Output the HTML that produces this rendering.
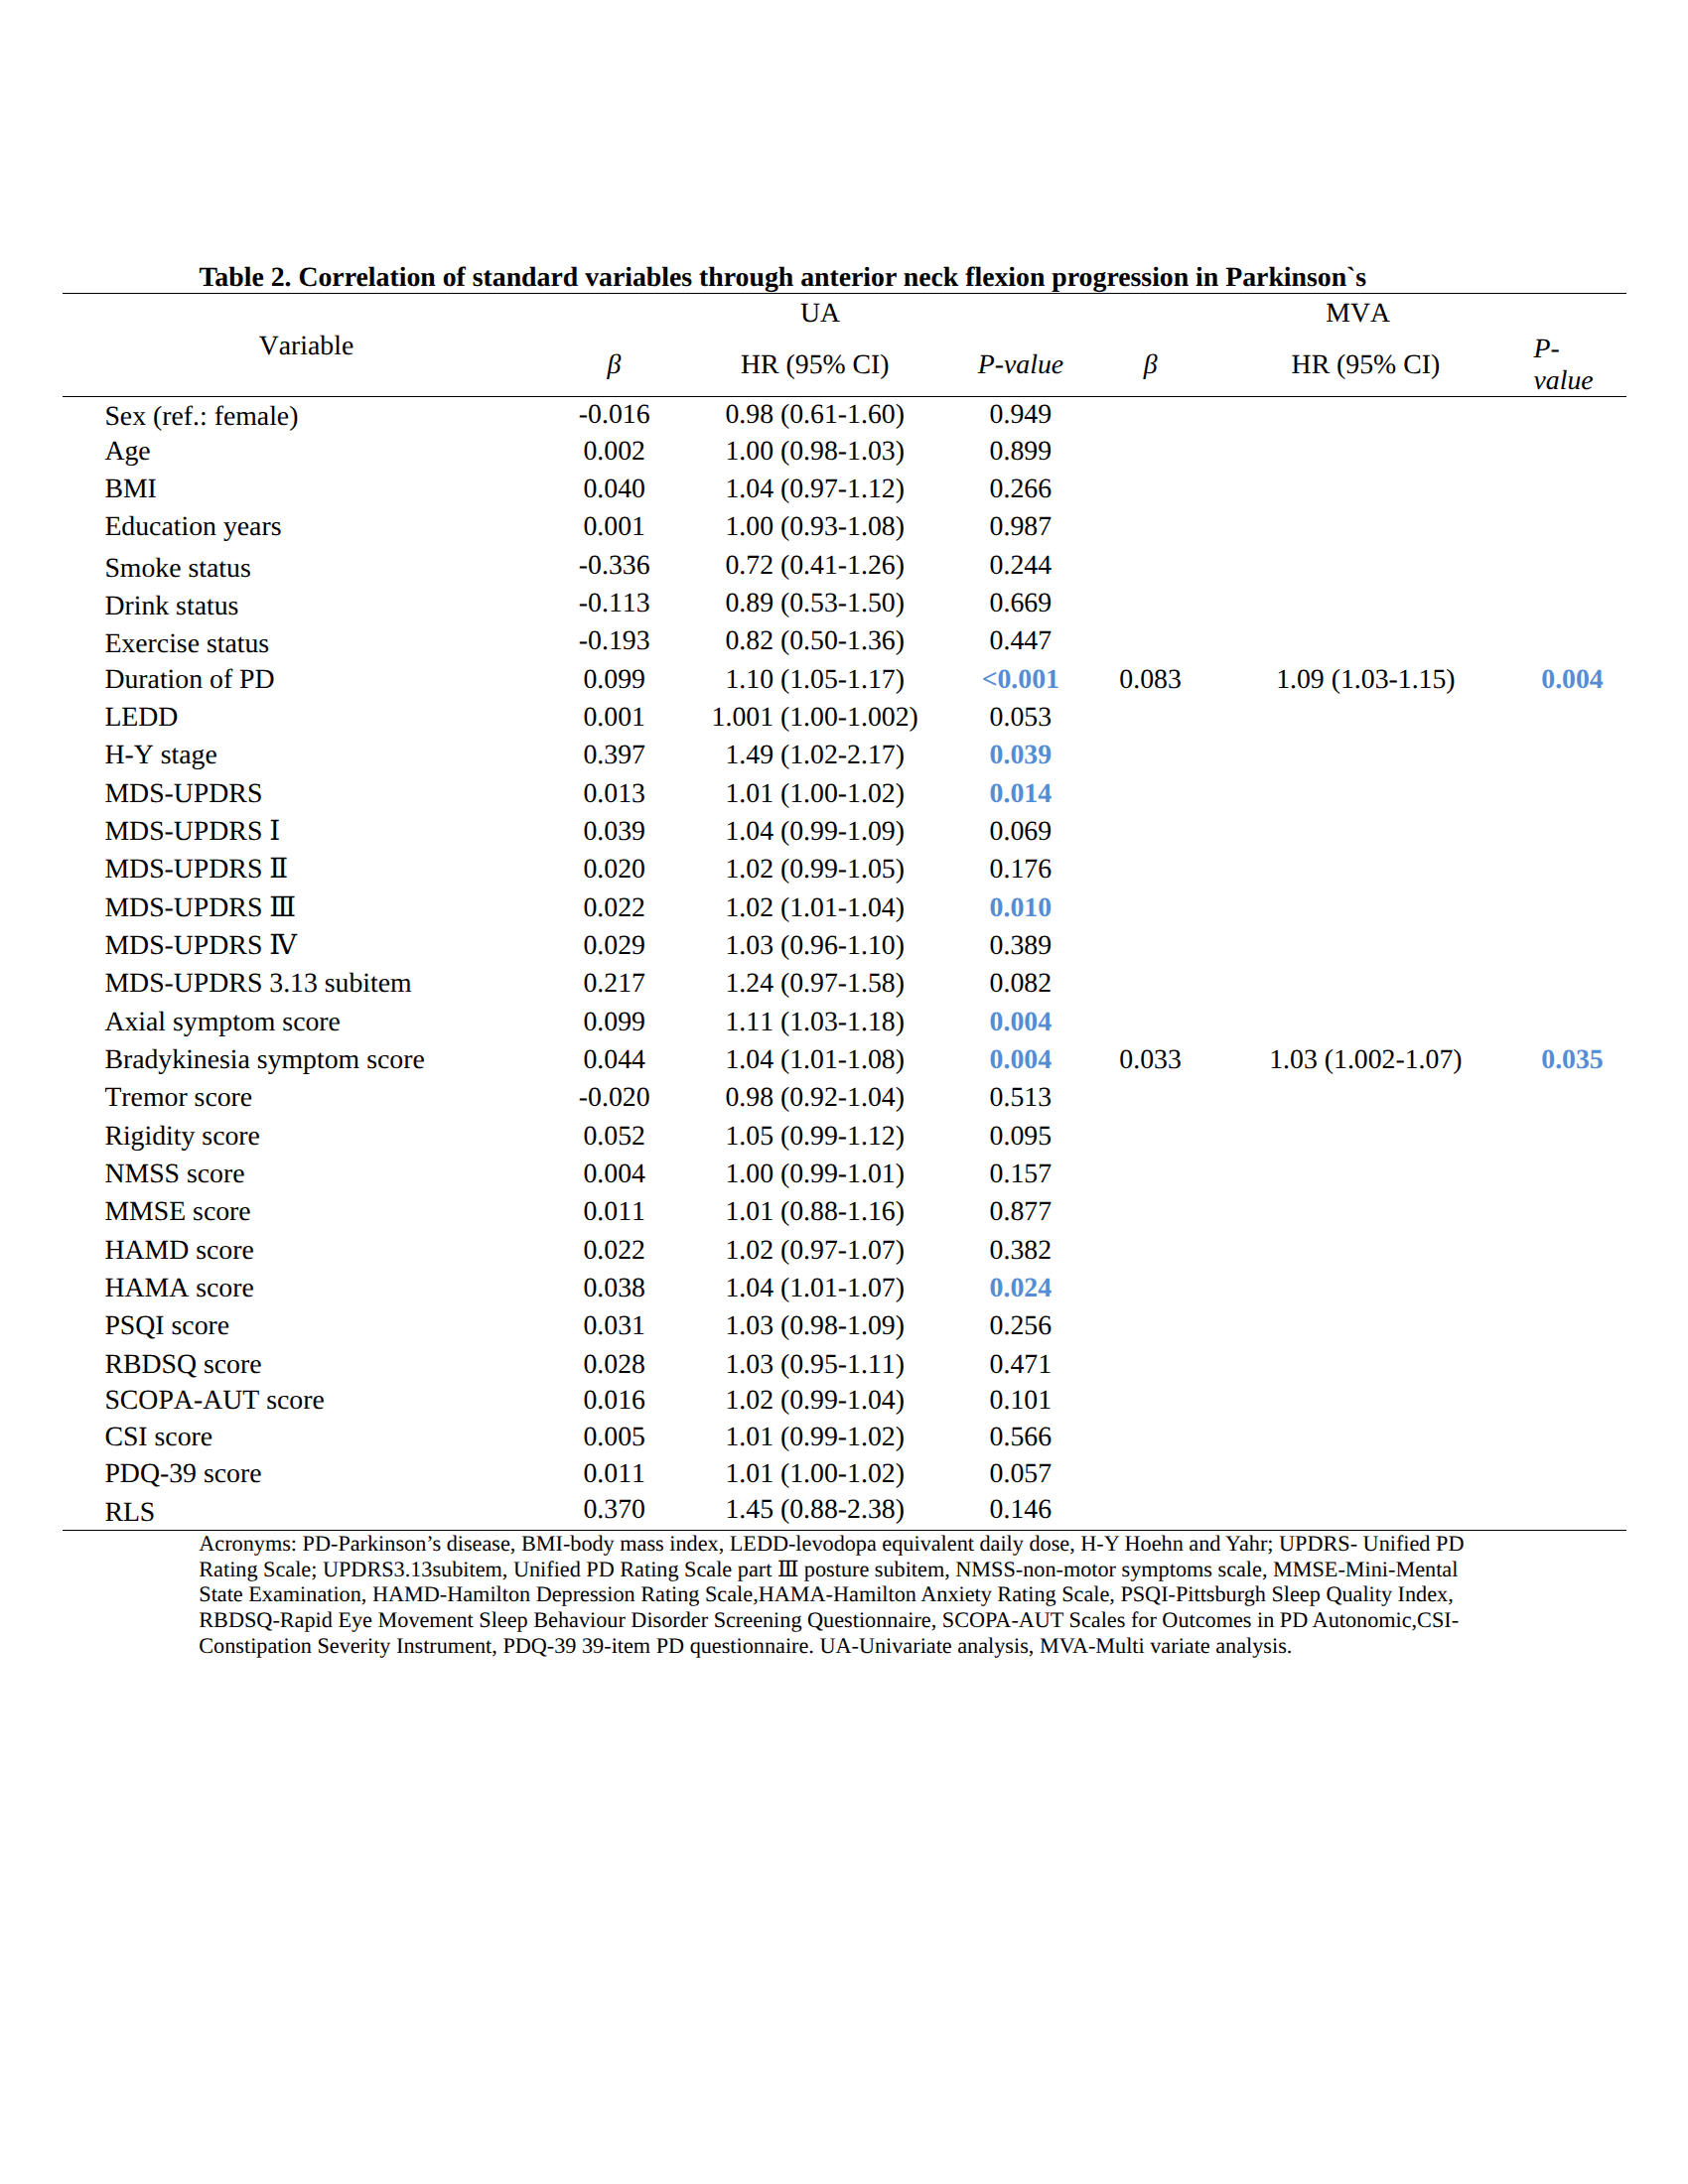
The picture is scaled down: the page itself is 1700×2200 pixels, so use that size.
<!DOCTYPE html>
<html lang="en"><head><meta charset="utf-8"><title>Table 2</title>
<style>
html,body{margin:0;padding:0;background:#fff;}
body{width:1700px;height:2200px;position:relative;overflow:hidden;
 font-family:"Liberation Serif","DejaVu Serif",serif;font-size:27.78px;color:#000;
 font-kerning:none;font-variant-ligatures:none;text-rendering:geometricPrecision;}
.t{position:absolute;white-space:pre;line-height:1;}
.c{transform:translateX(-50%);}
.b{font-weight:bold;color:#548dd4;}
.i{font-style:italic;}
.hl{position:absolute;left:63px;width:1575px;height:1px;background:#000;}
.ttl{font-weight:bold;font-kerning:normal;}
.rn{font-family:"DejaVu Serif","Liberation Serif",serif;line-height:0;}
.fn{position:absolute;left:200.3px;font-size:22.22px;line-height:1;white-space:pre;font-kerning:normal;}
</style></head><body>

<span class="t l ttl" style="left:200.4px;top:266px">Table 2. Correlation of standard variables through anterior neck flexion progression in Parkinson`s</span>
<div class="hl" style="top:295px"></div>
<div class="hl" style="top:399px"></div>
<div class="hl" style="top:1541px"></div>
<span class="t c " style="left:826.0px;top:302px">UA</span>
<span class="t c " style="left:1367.6px;top:302px">MVA</span>
<span class="t c " style="left:308.5px;top:335px">Variable</span>
<span class="t c i" style="left:618.4px;top:354px">β</span>
<span class="t c " style="left:820.8px;top:354px">HR (95% CI)</span>
<span class="t c i" style="left:1028.0px;top:354px">P-value</span>
<span class="t c i" style="left:1158.6px;top:354px">β</span>
<span class="t c " style="left:1375.4px;top:354px">HR (95% CI)</span>
<span class="t l i" style="left:1544.5px;top:338px">P-</span>
<span class="t l i" style="left:1544.5px;top:370px">value</span>
<span class="t l " style="left:105.4px;top:406px">Sex (ref.: female)</span>
<span class="t c " style="left:618.7px;top:404px">-0.016</span>
<span class="t c " style="left:820.7px;top:404px">0.98 (0.61-1.60)</span>
<span class="t c " style="left:1027.8px;top:404px">0.949</span>
<span class="t l " style="left:105.4px;top:441px">Age</span>
<span class="t c " style="left:618.7px;top:441px">0.002</span>
<span class="t c " style="left:820.7px;top:441px">1.00 (0.98-1.03)</span>
<span class="t c " style="left:1027.8px;top:441px">0.899</span>
<span class="t l " style="left:105.4px;top:479px">BMI</span>
<span class="t c " style="left:618.7px;top:479px">0.040</span>
<span class="t c " style="left:820.7px;top:479px">1.04 (0.97-1.12)</span>
<span class="t c " style="left:1027.8px;top:479px">0.266</span>
<span class="t l " style="left:105.4px;top:517px">Education years</span>
<span class="t c " style="left:618.7px;top:517px">0.001</span>
<span class="t c " style="left:820.7px;top:517px">1.00 (0.93-1.08)</span>
<span class="t c " style="left:1027.8px;top:517px">0.987</span>
<span class="t l " style="left:105.4px;top:559px">Smoke status</span>
<span class="t c " style="left:618.7px;top:556px">-0.336</span>
<span class="t c " style="left:820.7px;top:556px">0.72 (0.41-1.26)</span>
<span class="t c " style="left:1027.8px;top:556px">0.244</span>
<span class="t l " style="left:105.4px;top:597px">Drink status</span>
<span class="t c " style="left:618.7px;top:594px">-0.113</span>
<span class="t c " style="left:820.7px;top:594px">0.89 (0.53-1.50)</span>
<span class="t c " style="left:1027.8px;top:594px">0.669</span>
<span class="t l " style="left:105.4px;top:635px">Exercise status</span>
<span class="t c " style="left:618.7px;top:632px">-0.193</span>
<span class="t c " style="left:820.7px;top:632px">0.82 (0.50-1.36)</span>
<span class="t c " style="left:1027.8px;top:632px">0.447</span>
<span class="t l " style="left:105.4px;top:671px">Duration of PD</span>
<span class="t c " style="left:618.7px;top:671px">0.099</span>
<span class="t c " style="left:820.7px;top:671px">1.10 (1.05-1.17)</span>
<span class="t c b" style="left:1027.8px;top:671px">&lt;0.001</span>
<span class="t c " style="left:1158.6px;top:671px">0.083</span>
<span class="t c " style="left:1375.4px;top:671px">1.09 (1.03-1.15)</span>
<span class="t c b" style="left:1583.5px;top:671px">0.004</span>
<span class="t l " style="left:105.4px;top:709px">LEDD</span>
<span class="t c " style="left:618.7px;top:709px">0.001</span>
<span class="t c " style="left:820.7px;top:709px">1.001 (1.00-1.002)</span>
<span class="t c " style="left:1027.8px;top:709px">0.053</span>
<span class="t l " style="left:105.4px;top:747px">H-Y stage</span>
<span class="t c " style="left:618.7px;top:747px">0.397</span>
<span class="t c " style="left:820.7px;top:747px">1.49 (1.02-2.17)</span>
<span class="t c b" style="left:1027.8px;top:747px">0.039</span>
<span class="t l " style="left:105.4px;top:786px">MDS-UPDRS</span>
<span class="t c " style="left:618.7px;top:786px">0.013</span>
<span class="t c " style="left:820.7px;top:786px">1.01 (1.00-1.02)</span>
<span class="t c b" style="left:1027.8px;top:786px">0.014</span>
<span class="t l " style="left:105.4px;top:824px">MDS-UPDRS <span class=rn>Ⅰ</span></span>
<span class="t c " style="left:618.7px;top:824px">0.039</span>
<span class="t c " style="left:820.7px;top:824px">1.04 (0.99-1.09)</span>
<span class="t c " style="left:1027.8px;top:824px">0.069</span>
<span class="t l " style="left:105.4px;top:862px">MDS-UPDRS <span class=rn>Ⅱ</span></span>
<span class="t c " style="left:618.7px;top:862px">0.020</span>
<span class="t c " style="left:820.7px;top:862px">1.02 (0.99-1.05)</span>
<span class="t c " style="left:1027.8px;top:862px">0.176</span>
<span class="t l " style="left:105.4px;top:901px">MDS-UPDRS <span class=rn>Ⅲ</span></span>
<span class="t c " style="left:618.7px;top:901px">0.022</span>
<span class="t c " style="left:820.7px;top:901px">1.02 (1.01-1.04)</span>
<span class="t c b" style="left:1027.8px;top:901px">0.010</span>
<span class="t l " style="left:105.4px;top:939px">MDS-UPDRS <span class=rn>Ⅳ</span></span>
<span class="t c " style="left:618.7px;top:939px">0.029</span>
<span class="t c " style="left:820.7px;top:939px">1.03 (0.96-1.10)</span>
<span class="t c " style="left:1027.8px;top:939px">0.389</span>
<span class="t l " style="left:105.4px;top:977px">MDS-UPDRS 3.13 subitem</span>
<span class="t c " style="left:618.7px;top:977px">0.217</span>
<span class="t c " style="left:820.7px;top:977px">1.24 (0.97-1.58)</span>
<span class="t c " style="left:1027.8px;top:977px">0.082</span>
<span class="t l " style="left:105.4px;top:1016px">Axial symptom score</span>
<span class="t c " style="left:618.7px;top:1016px">0.099</span>
<span class="t c " style="left:820.7px;top:1016px">1.11 (1.03-1.18)</span>
<span class="t c b" style="left:1027.8px;top:1016px">0.004</span>
<span class="t l " style="left:105.4px;top:1054px">Bradykinesia symptom score</span>
<span class="t c " style="left:618.7px;top:1054px">0.044</span>
<span class="t c " style="left:820.7px;top:1054px">1.04 (1.01-1.08)</span>
<span class="t c b" style="left:1027.8px;top:1054px">0.004</span>
<span class="t c " style="left:1158.6px;top:1054px">0.033</span>
<span class="t c " style="left:1375.4px;top:1054px">1.03 (1.002-1.07)</span>
<span class="t c b" style="left:1583.5px;top:1054px">0.035</span>
<span class="t l " style="left:105.4px;top:1092px">Tremor score</span>
<span class="t c " style="left:618.7px;top:1092px">-0.020</span>
<span class="t c " style="left:820.7px;top:1092px">0.98 (0.92-1.04)</span>
<span class="t c " style="left:1027.8px;top:1092px">0.513</span>
<span class="t l " style="left:105.4px;top:1131px">Rigidity score</span>
<span class="t c " style="left:618.7px;top:1131px">0.052</span>
<span class="t c " style="left:820.7px;top:1131px">1.05 (0.99-1.12)</span>
<span class="t c " style="left:1027.8px;top:1131px">0.095</span>
<span class="t l " style="left:105.4px;top:1169px">NMSS score</span>
<span class="t c " style="left:618.7px;top:1169px">0.004</span>
<span class="t c " style="left:820.7px;top:1169px">1.00 (0.99-1.01)</span>
<span class="t c " style="left:1027.8px;top:1169px">0.157</span>
<span class="t l " style="left:105.4px;top:1207px">MMSE score</span>
<span class="t c " style="left:618.7px;top:1207px">0.011</span>
<span class="t c " style="left:820.7px;top:1207px">1.01 (0.88-1.16)</span>
<span class="t c " style="left:1027.8px;top:1207px">0.877</span>
<span class="t l " style="left:105.4px;top:1246px">HAMD score</span>
<span class="t c " style="left:618.7px;top:1246px">0.022</span>
<span class="t c " style="left:820.7px;top:1246px">1.02 (0.97-1.07)</span>
<span class="t c " style="left:1027.8px;top:1246px">0.382</span>
<span class="t l " style="left:105.4px;top:1284px">HAMA score</span>
<span class="t c " style="left:618.7px;top:1284px">0.038</span>
<span class="t c " style="left:820.7px;top:1284px">1.04 (1.01-1.07)</span>
<span class="t c b" style="left:1027.8px;top:1284px">0.024</span>
<span class="t l " style="left:105.4px;top:1322px">PSQI score</span>
<span class="t c " style="left:618.7px;top:1322px">0.031</span>
<span class="t c " style="left:820.7px;top:1322px">1.03 (0.98-1.09)</span>
<span class="t c " style="left:1027.8px;top:1322px">0.256</span>
<span class="t l " style="left:105.4px;top:1361px">RBDSQ score</span>
<span class="t c " style="left:618.7px;top:1361px">0.028</span>
<span class="t c " style="left:820.7px;top:1361px">1.03 (0.95-1.11)</span>
<span class="t c " style="left:1027.8px;top:1361px">0.471</span>
<span class="t l " style="left:105.4px;top:1397px">SCOPA-AUT score</span>
<span class="t c " style="left:618.7px;top:1397px">0.016</span>
<span class="t c " style="left:820.7px;top:1397px">1.02 (0.99-1.04)</span>
<span class="t c " style="left:1027.8px;top:1397px">0.101</span>
<span class="t l " style="left:105.4px;top:1434px">CSI score</span>
<span class="t c " style="left:618.7px;top:1434px">0.005</span>
<span class="t c " style="left:820.7px;top:1434px">1.01 (0.99-1.02)</span>
<span class="t c " style="left:1027.8px;top:1434px">0.566</span>
<span class="t l " style="left:105.4px;top:1471px">PDQ-39 score</span>
<span class="t c " style="left:618.7px;top:1471px">0.011</span>
<span class="t c " style="left:820.7px;top:1471px">1.01 (1.00-1.02)</span>
<span class="t c " style="left:1027.8px;top:1471px">0.057</span>
<span class="t l " style="left:105.4px;top:1510px">RLS</span>
<span class="t c " style="left:618.7px;top:1507px">0.370</span>
<span class="t c " style="left:820.7px;top:1507px">1.45 (0.88-2.38)</span>
<span class="t c " style="left:1027.8px;top:1507px">0.146</span>
<div class="fn" style="top:1544px">Acronyms: PD-Parkinson’s disease, BMI-body mass index, LEDD-levodopa equivalent daily dose, H-Y Hoehn and Yahr; UPDRS- Unified PD</div>
<div class="fn" style="top:1570px">Rating Scale; UPDRS3.13subitem, Unified PD Rating Scale part <span class=rn>Ⅲ</span> posture subitem, NMSS-non-motor symptoms scale, MMSE-Mini-Mental</div>
<div class="fn" style="top:1595px">State Examination, HAMD-Hamilton Depression Rating Scale,HAMA-Hamilton Anxiety Rating Scale, PSQI-Pittsburgh Sleep Quality Index,</div>
<div class="fn" style="top:1621px">RBDSQ-Rapid Eye Movement Sleep Behaviour Disorder Screening Questionnaire, SCOPA-AUT Scales for Outcomes in PD Autonomic,CSI-</div>
<div class="fn" style="top:1647px">Constipation Severity Instrument, PDQ-39 39-item PD questionnaire. UA-Univariate analysis, MVA-Multi variate analysis.</div>
</body></html>
